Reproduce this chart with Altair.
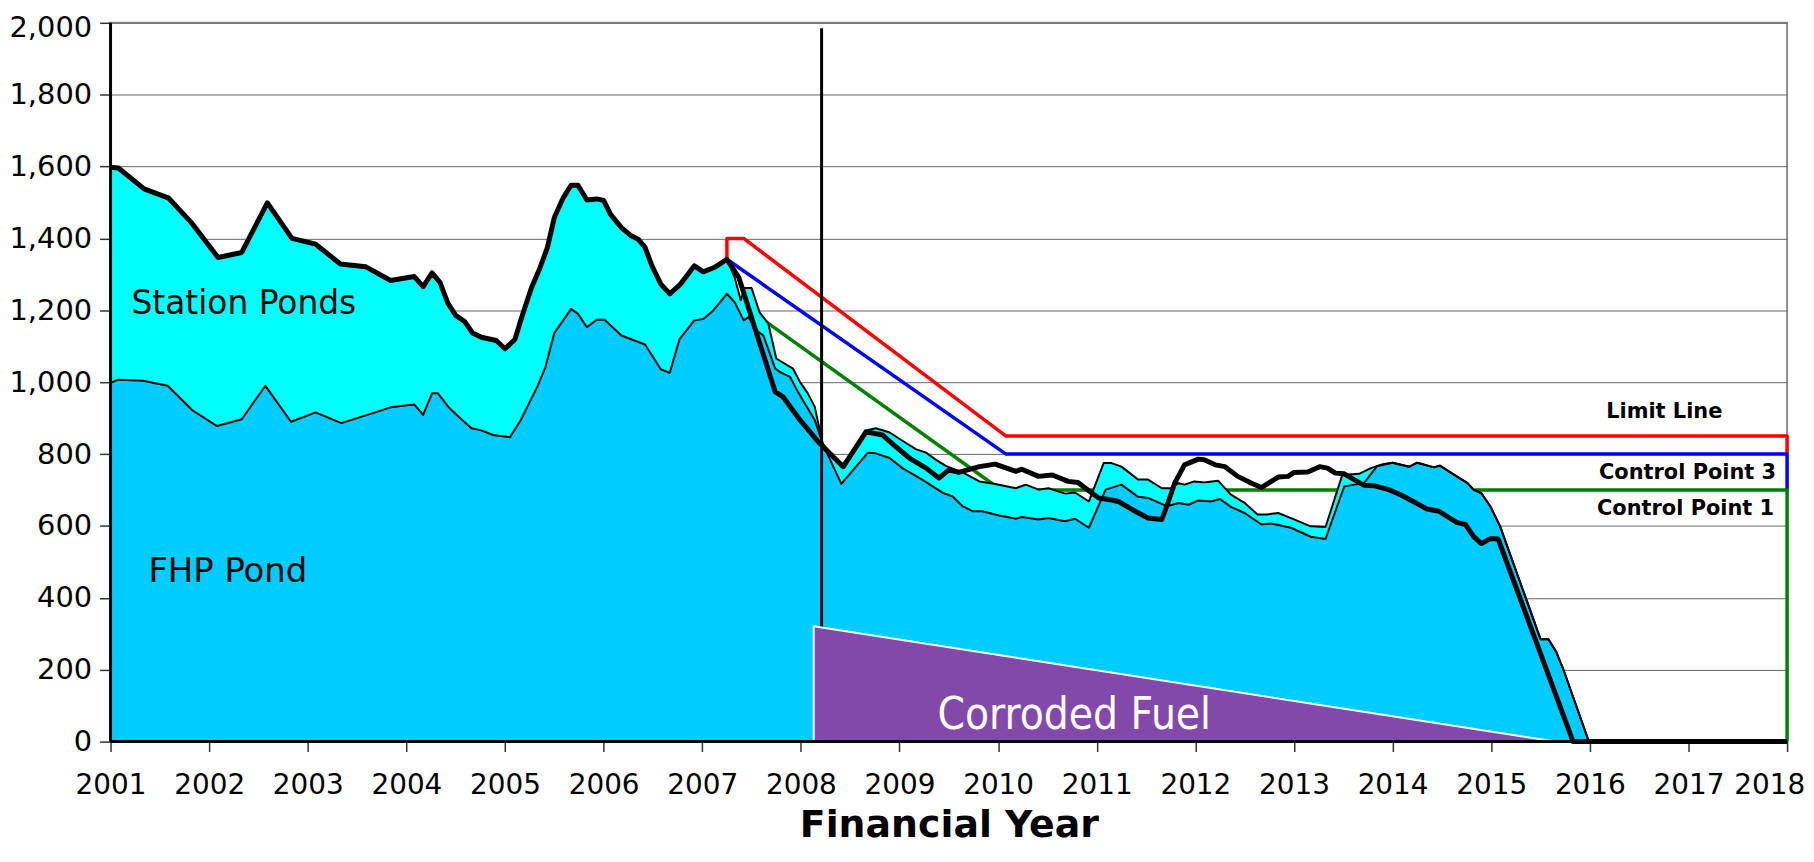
import altair as alt
import pandas as pd

# ---------------- data ----------------
# Station + FHP total before the forecast split (thick outline)
early_years = [2001.0, 2001.08, 2001.34, 2001.59, 2001.82, 2002.09, 2002.33, 2002.59, 2002.84, 2003.08,
               2003.33, 2003.59, 2003.84, 2004.08, 2004.17, 2004.26, 2004.34, 2004.42, 2004.5, 2004.59,
               2004.67, 2004.76, 2004.91, 2005.0, 2005.1, 2005.18, 2005.27, 2005.35, 2005.43, 2005.5,
               2005.59, 2005.67, 2005.74, 2005.83, 2005.93, 2006.0, 2006.07, 2006.18, 2006.27, 2006.35,
               2006.42, 2006.49, 2006.58, 2006.67, 2006.78, 2006.92, 2007.01, 2007.12, 2007.25]
early_total = [1598, 1596, 1538, 1512, 1444, 1347, 1361, 1499, 1400, 1384,
               1329, 1321, 1283, 1294, 1266, 1304, 1278, 1220, 1186, 1169,
               1137, 1125, 1116, 1093, 1119, 1190, 1264, 1315, 1375, 1458,
               1513, 1548, 1548, 1507, 1510, 1506, 1467, 1430, 1409, 1398,
               1375, 1324, 1273, 1246, 1273, 1324, 1307, 1319, 1342]

# total (station ponds top) of the plan after 2007.25 (thin outline)
late_total_years = [2007.33, 2007.39, 2007.43, 2007.5, 2007.58, 2007.67, 2007.75, 2007.92, 2007.99, 2008.07,
                    2008.14, 2008.22, 2008.41, 2008.68, 2008.76, 2008.9, 2009.03, 2009.17, 2009.27, 2009.37,
                    2009.47, 2009.64, 2009.81, 2009.97, 2010.18, 2010.28, 2010.41, 2010.51, 2010.68, 2010.78,
                    2010.92, 2011.07, 2011.15, 2011.25, 2011.42, 2011.52, 2011.66, 2011.75, 2011.83, 2011.89,
                    2011.99, 2012.09, 2012.23, 2012.36, 2012.5, 2012.63, 2012.73, 2012.84, 2012.97, 2013.17,
                    2013.32, 2013.49, 2013.66, 2013.78, 2013.9, 2014.0, 2014.17, 2014.25, 2014.42, 2014.48,
                    2014.65, 2014.76, 2014.82, 2014.9, 2014.99, 2015.09, 2015.5, 2015.58, 2015.66, 2015.73,
                    2015.99, 2018.0]
late_total = [1290, 1228, 1262, 1262, 1195, 1163, 1066, 1038, 1001, 969,
              932, 830, 765, 867, 872, 860, 837, 813, 804, 784,
              767, 749, 724, 717, 705, 715, 701, 705, 690, 693,
              668, 775, 775, 765, 729, 729, 705, 705, 719, 715,
              724, 721, 726, 687, 664, 632, 632, 636, 622, 599,
              597, 742, 745, 761, 772, 776, 765, 776, 763, 768,
              738, 719, 701, 691, 655, 599, 285, 285, 249, 202,
              0, 0]

# FHP pond
fhp_years = [2001.0, 2001.08, 2001.33, 2001.58, 2001.83, 2002.08, 2002.33, 2002.57, 2002.83, 2003.08,
             2003.34, 2003.58, 2003.84, 2004.08, 2004.17, 2004.26, 2004.32, 2004.43, 2004.53, 2004.66,
             2004.76, 2004.88, 2005.05, 2005.16, 2005.33, 2005.41, 2005.5, 2005.59, 2005.67, 2005.74,
             2005.83, 2005.93, 2006.01, 2006.18, 2006.42, 2006.58, 2006.67, 2006.77, 2006.92, 2007.01,
             2007.11, 2007.25, 2007.33, 2007.42, 2007.47, 2007.55, 2007.62, 2007.74, 2007.79, 2007.89,
             2007.96, 2008.04, 2008.14, 2008.22, 2008.41, 2008.68, 2008.76, 2008.9, 2009.03, 2009.23,
             2009.44, 2009.54, 2009.64, 2009.74, 2009.84, 2010.01, 2010.18, 2010.24, 2010.41, 2010.51,
             2010.68, 2010.78, 2010.92, 2011.09, 2011.25, 2011.42, 2011.52, 2011.71, 2011.83, 2011.93,
             2012.03, 2012.16, 2012.25, 2012.36, 2012.5, 2012.67, 2012.77, 2012.97, 2013.17, 2013.32,
             2013.51, 2013.61, 2013.71, 2013.84, 2014.0, 2014.17, 2014.25, 2014.42, 2014.48, 2014.65,
             2014.76, 2014.82, 2014.9, 2014.99, 2015.09, 2015.5, 2015.58, 2015.66, 2015.73, 2015.99,
             2018.0]
fhp_values = [998, 1007, 1004, 990, 922, 878, 897, 990, 890, 916,
              886, 907, 930, 938, 909, 969, 969, 930, 904, 872,
              866, 853, 847, 895, 989, 1042, 1137, 1172, 1204, 1190,
              1153, 1174, 1174, 1130, 1105, 1036, 1026, 1120, 1172, 1176,
              1199, 1246, 1222, 1172, 1181, 1144, 1130, 1038, 1028, 1015,
              978, 941, 895, 830, 717, 804, 802, 789, 761, 729,
              692, 682, 655, 641, 641, 629, 620, 625, 618, 622,
              613, 620, 595, 701, 715, 681, 678, 655, 664, 659,
              671, 668, 675, 653, 636, 604, 607, 595, 570, 564,
              710, 715, 719, 766, 776, 765, 776, 763, 768, 738,
              719, 701, 691, 655, 599, 285, 285, 249, 202, 0,
              0]

# alternative forecast of total stock after 2007.25 (thick line)
alt_years = [2007.37, 2007.74, 2007.82, 2007.99, 2008.19, 2008.43, 2008.66, 2008.83, 2008.96, 2009.1,
             2009.27, 2009.4, 2009.5, 2009.6, 2009.81, 2009.97, 2010.18, 2010.24, 2010.41, 2010.55,
             2010.71, 2010.81, 2010.93, 2011.02, 2011.14, 2011.22, 2011.39, 2011.52, 2011.66, 2011.71,
             2011.79, 2011.89, 2012.03, 2012.09, 2012.2, 2012.3, 2012.43, 2012.57, 2012.67, 2012.77,
             2012.84, 2012.94, 2013.0, 2013.14, 2013.26, 2013.34, 2013.42, 2013.51, 2013.61, 2013.71,
             2013.81, 2013.96, 2014.08, 2014.21, 2014.35, 2014.47, 2014.55, 2014.65, 2014.74, 2014.82,
             2014.9, 2014.99, 2015.07, 2015.83, 2018.0]
alt_values = [1292, 973, 959, 895, 830, 765, 862, 853, 821, 789,
              761, 733, 756, 749, 765, 772, 752, 758, 738, 742,
              724, 721, 696, 678, 673, 668, 641, 622, 618, 655,
              719, 770, 786, 784, 770, 765, 738, 719, 707, 724,
              736, 738, 749, 750, 765, 761, 747, 745, 729, 713,
              712, 701, 687, 668, 647, 641, 627, 610, 604, 571,
              551, 565, 564, 0, 0]

# limit / control lines
limit_years = [2007.25, 2007.25, 2007.42, 2010.08, 2018.0, 2018.0]
limit_values = [1342, 1400, 1400, 850, 850, 800]
cp3_years = [2007.25, 2010.08, 2018.0, 2018.0]
cp3_values = [1342, 800, 800, 700]
cp1_years = [2007.25, 2010.03, 2018.0, 2018.0]
cp1_values = [1246, 700, 700, 0]

# marker line and corroded fuel wedge
marker_year = [2008.21]
marker_top = [1985]
corroded_years = [2008.13, 2015.65]
corroded_values = [321, 0]
corroded_edge_years = [2008.13, 2008.13, 2015.65]
corroded_edge_values = [0, 321, 0]

x_ticks = list(range(2001, 2019))
y_ticks = list(range(0, 2001, 200))

FONT = "DejaVu Sans"


def df(xs, ys):
    return pd.DataFrame({"x": xs, "y": ys, "i": list(range(len(xs)))})


x_axis = alt.Axis(values=x_ticks, format="d", labelFont=FONT, labelFontSize=28, labelColor="black",
                  labelBaseline="alphabetic", labelPadding=42, labelFlush=False, labelOverlap=False,
                  labelOffset={"condition": {"test": "datum.value == 2018", "value": -18}, "value": 0},
                  tickSize=10, tickColor="#333333", tickWidth=1.5, domain=False, grid=False,
                  title="Financial Year", titleFont=FONT, titleFontSize=38, titleFontWeight="bold",
                  titleColor="black", titleBaseline="alphabetic", titleY=95)
y_axis = alt.Axis(values=y_ticks, format=",.0f", labelFont=FONT, labelFontSize=29, labelColor="black",
                  labelPadding=8, tickSize=11, tickColor="#333333", tickWidth=1.5, domain=False,
                  labelOffset={"condition": {"test": "datum.value == 2000", "value": 5}, "value": 0},
                  grid=True, gridColor="#666666", gridWidth=1, title=None)

xs = alt.Scale(domain=[2001, 2018], nice=False, zero=False)
ys = alt.Scale(domain=[0, 2000], nice=False)


def X():
    return alt.X("x:Q", scale=xs, axis=x_axis, title="Financial Year")


def Y():
    return alt.Y("y:Q", scale=ys, axis=y_axis, title=None)


def line(data, color, width):
    return alt.Chart(data).mark_line(color=color, strokeWidth=width, strokeJoin="round").encode(
        x=X(), y=Y(), order=alt.Order("i:Q"))


total_df = df(early_years + late_total_years, early_total + late_total)
fhp_df = df(fhp_years, fhp_values)
thick_df = df(early_years + alt_years, early_total + alt_values)

limit_l = line(df(limit_years, limit_values), "#FF0000", 3.5)
cp3_l = line(df(cp3_years, cp3_values), "#0000FF", 3.5)
cp1_l = line(df(cp1_years, cp1_values), "#008000", 3.5)

station_area = alt.Chart(total_df).mark_area(color="#00FFFF", opacity=1).encode(x=X(), y=Y())
fhp_area = alt.Chart(fhp_df).mark_area(color="#00CCFF", opacity=1).encode(x=X(), y=Y())
total_line = line(total_df, "black", 2)
fhp_line = line(fhp_df, "black", 2)
thick_line = line(thick_df, "black", 5)

marker = alt.Chart(pd.DataFrame({"x": marker_year, "y": [0], "y2": marker_top})).mark_rule(
    color="black", strokeWidth=3).encode(x=X(), y=Y(), y2="y2:Q")

corroded = alt.Chart(df(corroded_years, corroded_values)).mark_area(color="#8249AB", opacity=1).encode(
    x=X(), y=Y())
corroded_edge = line(df(corroded_edge_years, corroded_edge_values), "white", 2)

left_axis_line = alt.Chart(pd.DataFrame({"a": [0]})).mark_rule(color="black", strokeWidth=3).encode(
    x=alt.value(0), y=alt.value(0), y2=alt.value(722))
bottom_axis_line = alt.Chart(pd.DataFrame({"a": [0]})).mark_rule(color="black", strokeWidth=3).encode(
    x=alt.value(0), x2=alt.value(1684), y=alt.value(722))

label_texts = ["Station Ponds", "FHP Pond", "Corroded Fuel", "Limit Line", "Control Point 3", "Control Point 1"]


def label(txt, px, py, size, align="left", weight="normal", color="black", font=FONT):
    return alt.Chart(pd.DataFrame({"t": [txt]})).mark_text(
        align=align, baseline="alphabetic", font=font, fontSize=size, fontWeight=weight, color=color
    ).encode(x=alt.value(px), y=alt.value(py), text="t:N")


labels = [
    label(label_texts[0], 21, 292, 33),
    label(label_texts[1], 38, 562, 34),
    label(label_texts[2], 968, 709, 44, align="center", color="white",
          font="'DejaVu Sans Condensed', 'Liberation Sans'"),
    label(label_texts[3], 1619, 397, 21, align="right", weight="bold"),
    label(label_texts[4], 1673, 458, 21, align="right", weight="bold"),
    label(label_texts[5], 1671, 494, 21, align="right", weight="bold"),
]

chart = alt.layer(
    limit_l, cp3_l, cp1_l,
    station_area, fhp_area, total_line, fhp_line, thick_line,
    marker, corroded, corroded_edge,
    left_axis_line, bottom_axis_line,
    *labels
).properties(
    width=1684, height=722,
    autosize=alt.AutoSizeParams(type="none"),
    padding={"left": 103, "top": 13, "right": 19, "bottom": 105},
).configure_view(stroke="#8c8c8c", strokeWidth=2)

chart.save("out.html", embed_options={"renderer": "svg", "actions": False})
